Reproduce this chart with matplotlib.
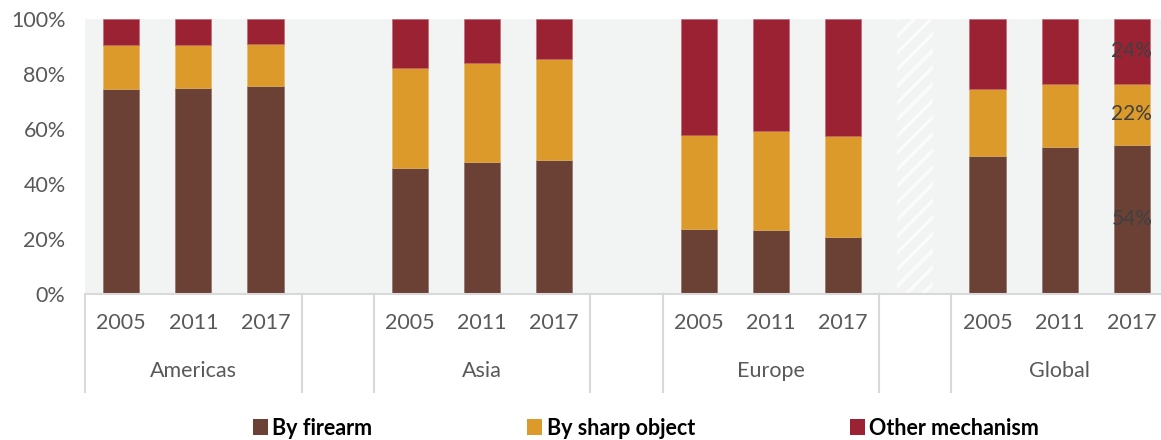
import matplotlib.pyplot as plt
import matplotlib.transforms as mtransforms
from matplotlib.patches import Patch
import numpy as np

plt.rcParams['font.family'] = ['Lato', 'DejaVu Sans']
plt.rcParams['hatch.linewidth'] = 2.5

regions = ['Americas', 'Asia', 'Europe', 'Global']
years = ['2005', '2011', '2017']
# shares in %, per region, per year
firearm = [[74.7, 75.0, 75.6],
           [45.8, 48.0, 48.7],
           [23.6, 23.3, 20.7],
           [50.2, 53.5, 54.2]]
sharp = [[15.7, 15.7, 15.3],
         [36.4, 36.0, 36.8],
         [34.4, 36.1, 36.8],
         [24.3, 22.9, 22.2]]
other = [[9.6, 9.3, 9.1],
         [17.8, 16.0, 14.5],
         [42.0, 40.6, 42.5],
         [25.5, 23.6, 23.6]]
global_labels = ['54%', '22%', '24%']
series_names = ['By firearm', 'By sharp object', 'Other mechanism']
colors = ['#6b4135', '#dc9a2a', '#9a2232']

# slot layout: 3 bars per region, one empty slot between regions
slot_starts = [0, 4, 8, 12]
hatched_slot = 11

fig = plt.figure(figsize=(11.61, 4.40), dpi=100)
ax = fig.add_axes([85 / 1161, 1 - 294 / 440, (1168 - 85) / 1161, 275 / 440])
ax.set_facecolor('#f2f3f3')

xs, f_vals, s_vals, o_vals, tick_labels = [], [], [], [], []
for r, start in enumerate(slot_starts):
    for j, y in enumerate(years):
        xs.append(start + j)
        f_vals.append(firearm[r][j] / 100)
        s_vals.append(sharp[r][j] / 100)
        o_vals.append(other[r][j] / 100)
        tick_labels.append(y)
xs = np.array(xs)
f_vals, s_vals, o_vals = np.array(f_vals), np.array(s_vals), np.array(o_vals)

w = 0.5
ax.bar(xs, f_vals, w, color=colors[0], edgecolor='#8a6a60', linewidth=0.4)
ax.bar(xs, s_vals, w, bottom=f_vals, color=colors[1], edgecolor='#e8b566', linewidth=0.4)
ax.bar(xs, o_vals, w, bottom=f_vals + s_vals, color=colors[2], edgecolor='#c06070', linewidth=0.4)

# hatched placeholder slot
ax.bar([hatched_slot], [1.0], w, facecolor='none', edgecolor='#fbfbfb', hatch='//', linewidth=0)

# labels on Global 2017
gx = xs[-1]
mids = [f_vals[-1] / 2, f_vals[-1] + s_vals[-1] / 2, f_vals[-1] + s_vals[-1] + o_vals[-1] / 2]
for m, lab in zip(mids, global_labels):
    ax.text(gx, m, lab, ha='center', va='center', fontsize=15, color='#404040')

ax.set_xlim(-0.5, 14.5)
ax.set_ylim(0, 1)
ax.set_yticks(np.arange(0, 1.01, 0.2))
ax.set_yticklabels([f'{int(v * 100)}%' for v in np.arange(0, 1.01, 0.2)])
ax.set_xticks(xs)
ax.set_xticklabels(tick_labels)
ax.tick_params(axis='both', length=0, labelsize=15.5, labelcolor='#595959')
ax.tick_params(axis='y', pad=14)
ax.tick_params(axis='x', pad=14)
for s in ['top', 'right', 'left']:
    ax.spines[s].set_visible(False)
ax.spines['bottom'].set_color('#d9d9d9')
ax.spines['bottom'].set_linewidth(1.5)

trans = mtransforms.blended_transform_factory(ax.transData, ax.transAxes)
for b in [-0.5, 2.5, 3.5, 6.5, 7.5, 10.5, 11.5]:
    ax.plot([b, b], [0, -(392 - 294) / 275], transform=trans, color='#d9d9d9',
            linewidth=1.5, clip_on=False)
for r, start in enumerate(slot_starts):
    ax.text(start + 1, -(371 - 294) / 275, regions[r], transform=trans,
            ha='center', va='center', fontsize=15.5, color='#595959')

handles = [Patch(facecolor=c) for c in colors]
fig.legend(handles, series_names, loc='center', bbox_to_anchor=(646 / 1161, 1 - 428 / 440),
           ncol=3, frameon=False, handlelength=0.7, handleheight=0.7,
           handletextpad=0.2, columnspacing=7.2,
           prop={'weight': 'bold', 'size': 15.5})

fig.savefig('out.png', dpi=100)
